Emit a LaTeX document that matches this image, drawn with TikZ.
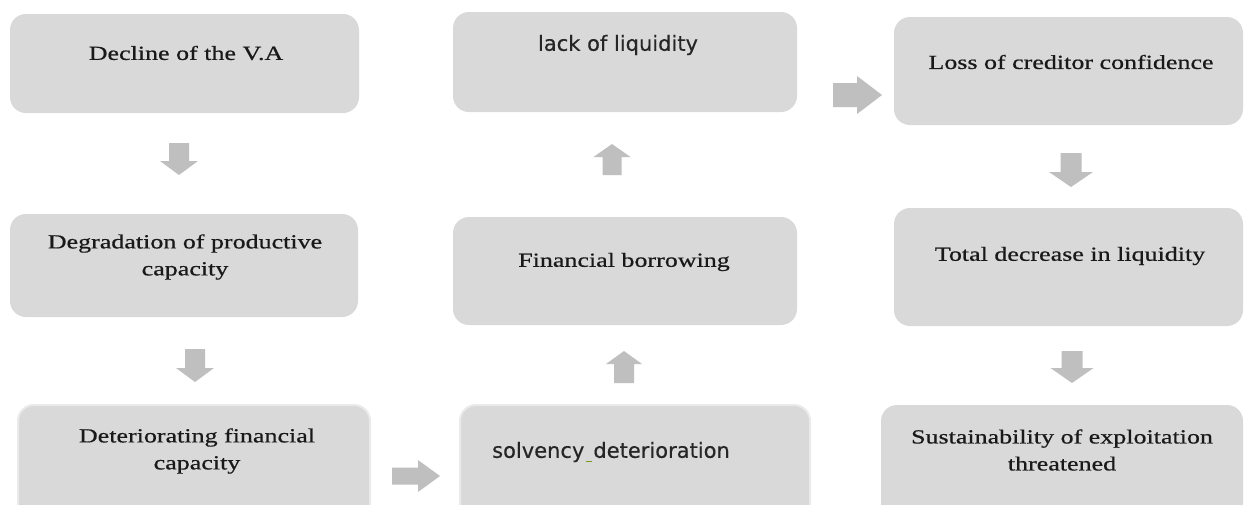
\documentclass[tikz,border=0pt]{standalone}
\usepackage{fontspec}
\setmainfont{Liberation Serif}[FakeStretch=1.3,FakeBold=0.6]
\newfontfamily\sansf{DejaVu Sans}[FakeBold=0.4]
\definecolor{boxfill}{HTML}{D9D9D9}
\definecolor{arrfill}{HTML}{BFBFBF}
\definecolor{squig}{HTML}{7A9A1A}
% down arrow: x, ytop, ybot, shaft width, head width, head length
\newcommand{\arrD}[6]{\fill[arrfill] ({#1-#4/2},{-#2}) -- ({#1+#4/2},{-#2}) -- ({#1+#4/2},{-(#3-#6)}) -- ({#1+#5/2},{-(#3-#6)}) -- ({#1},{-#3}) -- ({#1-#5/2},{-(#3-#6)}) -- ({#1-#4/2},{-(#3-#6)}) -- cycle;}
% up arrow: x, ytop, ybot, shaft width, head width, head length
\newcommand{\arrU}[6]{\fill[arrfill] ({#1},{-#2}) -- ({#1+#5/2},{-(#2+#6)}) -- ({#1+#4/2},{-(#2+#6)}) -- ({#1+#4/2},{-#3}) -- ({#1-#4/2},{-#3}) -- ({#1-#4/2},{-(#2+#6)}) -- ({#1-#5/2},{-(#2+#6)}) -- cycle;}
% right arrow: y, xleft, xright, shaft width, head width, head length
\newcommand{\arrR}[6]{\fill[arrfill] ({#2},{-(#1-#4/2)}) -- ({#3-#6},{-(#1-#4/2)}) -- ({#3-#6},{-(#1-#5/2)}) -- ({#3},{-#1}) -- ({#3-#6},{-(#1+#5/2)}) -- ({#3-#6},{-(#1+#4/2)}) -- ({#2},{-(#1+#4/2)}) -- cycle;}
\begin{document}
\begin{tikzpicture}[x=1pt,y=1pt,
  box/.style={fill=boxfill, rounded corners=16pt, inner sep=0pt},
  bevel/.style={box, draw=boxfill!55!white, line width=2pt},
  txt/.style={font=\fontsize{20}{27}\selectfont, align=center, inner sep=0pt, text=black!90},
  stxt/.style={font=\sansf\fontsize{21}{27}\selectfont, inner sep=0pt, text=black!85}]
\useasboundingbox (0,0) rectangle (1245,-504);
\clip (0,0) rectangle (1245,-504);
\fill[white] (0,0) rectangle (1245,-504);
% boxes
\node[box, minimum width=349pt, minimum height=99pt] (b1) at (184.5,-63.5) {};
\node[box, minimum width=344pt, minimum height=100pt] (b2) at (625,-62) {};
\node[box, minimum width=349pt, minimum height=108pt] (b3) at (1068.5,-71) {};
\node[box, minimum width=348pt, minimum height=103pt] (b4) at (184,-265.5) {};
\node[box, minimum width=344pt, minimum height=108pt] (b5) at (625,-271) {};
\node[box, minimum width=349pt, minimum height=118pt] (b6) at (1068.5,-267) {};
\node[bevel, minimum width=352pt, minimum height=115pt] (b7) at (194,-462.5) {};
\node[bevel, minimum width=350pt, minimum height=115pt] (b8) at (635,-462.5) {};
\node[box, minimum width=362pt, minimum height=115pt] (b9) at (1062,-462.5) {};
% texts
\node[txt] (t1) at (186,-53) {Decline of the V.A};
\node[stxt] (t2) at (618,-45) {lack of liquidity};
\node[txt] (t3) at (1071,-62) {Loss of creditor confidence};
\node[txt] (t4) at (185,-257) {Degradation of productive\\capacity};
\node[txt] (t5) at (624,-262) {Financial borrowing};
\node[txt] (t6) at (1070,-256) {Total decrease in liquidity};
\node[txt] (t7) at (197,-451) {Deteriorating financial\\capacity};
\node[stxt] (t8) at (611,-452) {solvency\hspace{2pt}\textcolor{squig}{\rule[-4pt]{6pt}{1.2pt}}\hspace{1pt}deterioration};
\node[txt] (t9) at (1062,-450) {Sustainability of exploitation\\threatened};
% arrows
\arrD{179}{143}{175}{20}{38}{14}
\arrD{195}{349}{382}{20}{38}{14}
\arrD{1071}{153}{187}{21}{44}{15}
\arrD{1072}{351}{383}{21}{43}{15}
\arrU{612}{144}{175}{19}{37}{13}
\arrU{624}{351}{383}{20}{36}{13}
\arrR{476}{392}{440}{17}{32}{22}
\arrR{95}{833}{882}{24}{38}{25}
\end{tikzpicture}
\end{document}
